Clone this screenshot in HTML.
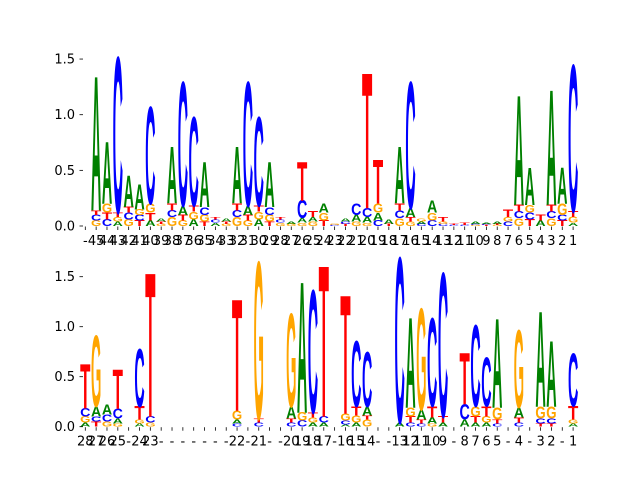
<!DOCTYPE html>
<html><head><meta charset="utf-8"><style>
body{margin:0;background:#fff;}
svg{display:block;font-family:"DejaVu Sans","Liberation Sans",sans-serif;}
</style></head><body>
<svg id="chart" width="640" height="480" viewBox="0 0 640 480" xmlns="http://www.w3.org/2000/svg"></svg>
<script>
const topLabels = ['-','45','44','43','42','41','40','39','38','37','36','35','34','33','32','31','30','29','28','27','26','25','24','23','22','21','20','19','18','17','16','15','14','13','12','11','10','9','8','7','6','5','4','3','2','1'];
const topLetters = ['','GCTA','CTGA','AGTC','GCTA','TCGA','ATGC','GTA','GCTA','GTAC','AGTC','TGCA','ACT','GTA','GCTA','GTAC','AGTC','TGCA','GCT','GA','GACT','GAT','TGA','CG','TCA','GAC','GACT','CAGT','TA','GCTA','GTAC','CAG','CGA','CGT','CT','CT','GCA','TCA','GTA','CGT','GCTA','TCGA','AT','GCTA','TCGA','AGTC'];
const topHeights = [[],[.05,.05,.04,1.19],[.06,.06,.08,.55],[.04,.04,.04,1.38],[.06,.06,.05,.28],[.05,.05,.05,.22],[.05,.07,.08,.86],[.02,.02,.03],[.08,.06,.06,.5],[.05,.05,.08,1.1],[.06,.07,.05,.79],[.04,.06,.07,.4],[.03,.03,.02],[.02,.02,.03],[.08,.06,.06,.5],[.05,.05,.08,1.1],[.06,.07,.05,.79],[.04,.06,.07,.4],[.03,.03,.02],[.02,.02],[.03,.04,.16,.34],[.04,.04,.05],[.05,.07,.08],[.01,.01],[.02,.02,.03],[.04,.06,.1],[.03,.05,.08,1.2],[.05,.07,.08,.39],[.02,.04],[.07,.07,.06,.5],[.04,.04,.08,1.12],[.02,.02,.03],[.05,.07,.11],[.02,.02,.04],[.01,.01],[.01,.02],[.01,.01,.02],[.01,.01,.01],[.01,.01,.02],[.04,.04,.07],[.07,.06,.06,.97],[.06,.06,.07,.33],[.05,.05],[.07,.06,.06,1.02],[.05,.05,.1,.32],[.03,.05,.05,1.3]];
const botLabels = ['28','27','26','25','-','24','23','-','-','-','-','-','-','-','22','-','21','-','-','20','19','18','17','-','16','15','14','-','-','13','12','11','10','9','-','8','7','6','5','-','4','-','3','2','-','1'];
const botLetters = ['AGCT','TCAG','GCA','GACT','','AGTC','GCT','','','','','','','','CAGT','','CTG','','','CTAG','CGA','AGTC','ACT','','ACGT','AGTC','GTAC','','','AC','CTGA','CTAG','GATC','ATC','','ACT','ATGC','AGTC','CTGA','','CTAG','','TCGA','TCGA','','AGTC'];
const botHeights = [[.04,.06,.08,.44],[.05,.05,.1,.7],[.05,.07,.1],[.03,.05,.1,.39],[],[.03,.04,.13,.57],[.04,.06,1.42],[],[],[],[],[],[],[],[.03,.04,.09,1.1],[],[.04,.04,1.55],[],[],[.04,.04,.12,.92],[.06,.08,1.29],[.04,.05,.05,1.21],[.04,.06,1.49],[],[.02,.04,.07,1.17],[.04,.07,.09,.65],[.07,.04,.09,.54],[],[],[.04,1.63],[.04,.06,.09,.89],[.03,.04,.1,1.0],[.03,.06,.11,.87],[.04,.06,1.42],[],[.07,.15,.51],[.04,.06,.1,.8],[.04,.06,.1,.48],[.03,.04,.12,.88],[],[.04,.05,.1,.76],[],[.03,.05,.12,.94],[.03,.05,.12,.65],[],[.03,.04,.13,.52]];
const yTicks = [0, 0.5, 1.0, 1.5];
const yTickLabels = ['0.0','0.5','1.0','1.5'];

const svg = document.getElementById('chart');
const NS = 'http://www.w3.org/2000/svg';
const colors = {A:'#008000', C:'#0000ff', G:'#ffa500', T:'#ff0000'};
const glyphW = {A:72.2, C:72.2, G:77.8, T:61.1};
const CAP = 68.5;
function mk(tag, attrs, parent){const e=document.createElementNS(NS,tag);for(const k in attrs)e.setAttribute(k,attrs[k]);(parent||svg).appendChild(e);return e;}

function panel(name, labels, letters, heights, y0, unit){
  const g = mk('g', {});
  
  
  const xPos = i => 85.3 + i*10.84;
  const yPos = v => y0 - v*unit;
  yTicks.forEach((t, k) => {
    const tk = mk('line', {x1:79.5, x2:83, y1:yPos(t), y2:yPos(t), stroke:'#000', 'stroke-width':0.8}, g);
    
    
    const tl = mk('text', {x:75, y:yPos(t)+4.5, 'font-size':13, 'text-anchor':'end', fill:'#000'}, g);
    tl.textContent = yTickLabels[k];
    
    
  });
  labels.forEach((lab, i) => {
    const tk = mk('line', {x1:xPos(i), x2:xPos(i), y1:y0+0.5, y2:y0+4, stroke:'#000', 'stroke-width':0.8}, g);
    
    
    const tl = mk('text', {x:xPos(i), y:y0+19, 'font-size':13, 'text-anchor':'middle', fill:'#000'}, g);
    tl.textContent = lab;
    
    
  });
  letters.forEach((str, i) => {
    let acc = 0;
    for (let j = 0; j < str.length; j++) {
      const ch = str[j], h = heights[i][j];
      const yb = yPos(acc), hp = h*unit;
      acc += h;
      const sx = 10.3/glyphW[ch], sy = hp/CAP;
      const t = mk('text', {x:0, y:0, 'font-size':100, 'font-weight':'bold', 'text-anchor':'middle',
        'font-family':'"Liberation Sans", sans-serif', fill:colors[ch],
        transform:`translate(${xPos(i)},${yb}) scale(${sx},${sy})`}, g);
      t.textContent = ch;
      
      
    }
  });
}
panel('top-logo-panel', topLabels, topLetters, topHeights, 226, 111.3);
panel('bottom-logo-panel', botLabels, botLetters, botHeights, 426.7, 100);
</script>
</body></html>
